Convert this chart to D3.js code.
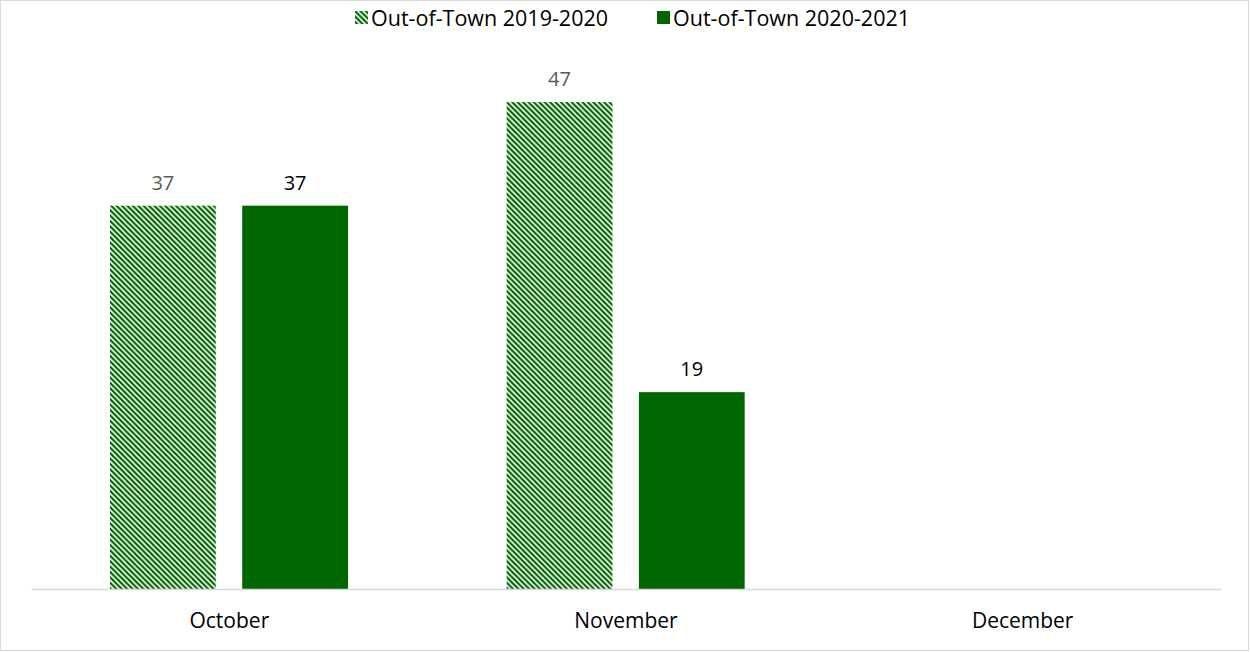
<!DOCTYPE html>
<html>
<head>
<meta charset="utf-8">
<script src="https://cdn.jsdelivr.net/npm/d3@7"></script>
<style>
  body { margin: 0; background: #fff; }
  text { font-family: "Open Sans", "Noto Sans", sans-serif; }
</style>
</head>
<body>
<div id="chart"></div>
<script>
// chart data
var months = ["October", "November", "December"];
var seriesNames = ["Out-of-Town 2019-2020", "Out-of-Town 2020-2021"];
var values2019 = [37, 47, null];
var values2020 = [37, 19, null];

var W = 1250, H = 652;
var margin = {top: 50, right: 29, bottom: 63, left: 31};
var width = W - margin.left - margin.right;
var height = H - margin.top - margin.bottom;
var green = "#006600";
var fontFam = "'Open Sans', 'Noto Sans', sans-serif";

var svg = d3.select("#chart").append("svg")
    .attr("width", W)
    .attr("height", H);

// hatched pattern for the older season
var p = 5.4;
var defs = svg.append("defs");
var pat = defs.append("pattern")
    .attr("id", "hatch")
    .attr("patternUnits", "userSpaceOnUse")
    .attr("width", p)
    .attr("height", p);
pat.append("rect").attr("width", p).attr("height", p).attr("fill", "#fff");
pat.append("path")
    .attr("d", "M-1,-1 L" + (p + 1) + "," + (p + 1) +
               " M-1," + (p - 1) + " L1," + (p + 1) +
               " M" + (p - 1) + ",-1 L" + (p + 1) + ",1")
    .attr("stroke", green)
    .attr("stroke-width", 2.2);

// outer border
svg.append("rect")
    .attr("x", 0.5).attr("y", 0.5)
    .attr("width", W - 2).attr("height", H - 2)
    .attr("fill", "none")
    .attr("stroke", "#d9d9d9");

var g = svg.append("g")
    .attr("transform", "translate(" + margin.left + "," + margin.top + ")");

var x = d3.scaleBand()
    .domain(months)
    .range([0, width]);

var x1 = d3.scaleBand()
    .domain(seriesNames)
    .range([79, 317])
    .paddingInner(0.2);

var y = d3.scaleLinear()
    .domain([0, 52])
    .range([height, height - 52 * 10.36]);

var rows = months.map(function (m, i) {
  return {month: m, vals: [values2019[i], values2020[i]]};
});

function entries(d) {
  return d.vals.map(function (v, j) { return {name: seriesNames[j], v: v, j: j}; })
    .filter(function (e) { return e.v !== null; });
}

var groups = g.selectAll(".grp")
    .data(rows)
    .enter().append("g")
    .attr("transform", function (d) { return "translate(" + x(d.month) + ",0)"; });

groups.selectAll("rect")
    .data(entries)
    .enter().append("rect")
    .attr("x", function (d) { return x1(d.name); })
    .attr("width", x1.bandwidth())
    .attr("y", function (d) { return y(d.v); })
    .attr("height", function (d) { return y(0) - y(d.v); })
    .attr("fill", function (d) { return d.j === 0 ? "url(#hatch)" : green; });

groups.selectAll(".lbl")
    .data(entries)
    .enter().append("text")
    .attr("class", "lbl")
    .attr("x", function (d) { return x1(d.name) + x1.bandwidth() / 2; })
    .attr("y", function (d) { return y(d.v) - 16; })
    .attr("text-anchor", "middle")
    .attr("font-size", 20)
    .attr("fill", function (d) { return d.j === 0 ? "#595959" : "#000"; })
    .text(function (d) { return d.v; });

// x axis
var xAxis = g.append("g")
    .attr("transform", "translate(0," + height + ")")
    .call(d3.axisBottom(x).tickSize(0).tickPadding(24));
xAxis.select(".domain").attr("stroke", "#d9d9d9").attr("stroke-width", 1.5);
xAxis.selectAll("text")
    .attr("font-size", 21)
    .attr("fill", "#000")
    .style("font-family", fontFam);

// legend
var legend = svg.append("g");
var legendX = [355, 657];
seriesNames.forEach(function (name, i) {
  var lg = legend.append("g").attr("transform", "translate(" + legendX[i] + ",11)");
  lg.append("rect")
      .attr("width", 13).attr("height", 13)
      .attr("fill", i === 0 ? "url(#hatch)" : green);
  lg.append("text")
      .attr("x", 16)
      .attr("y", 15)
      .attr("font-size", 21.5)
      .attr("fill", "#000")
      .text(name);
});
</script>
</body>
</html>
